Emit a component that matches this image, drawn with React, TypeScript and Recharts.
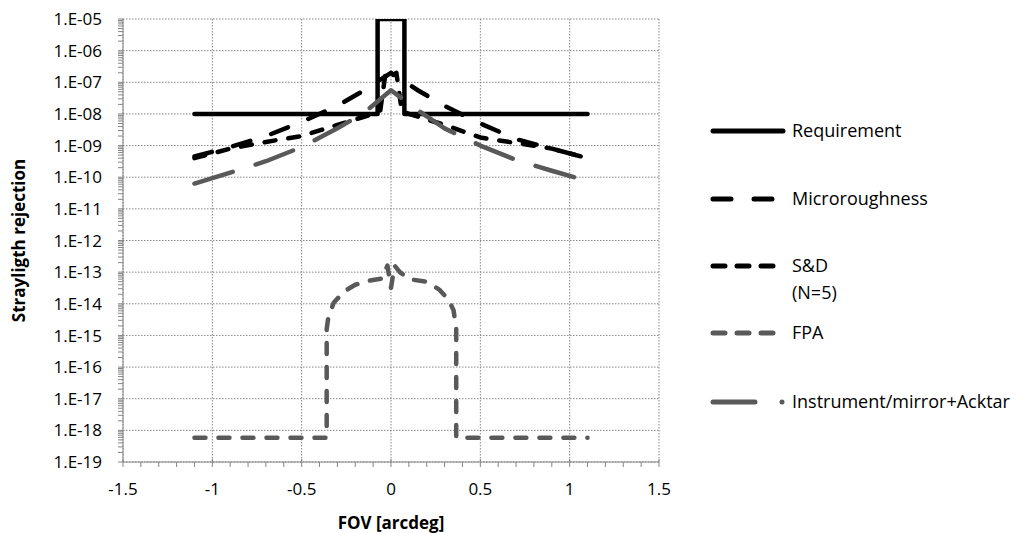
import { LineChart, Line, XAxis, YAxis, CartesianGrid } from "recharts"

// x = FOV [arcdeg], y = straylight rejection
const reqX = [-1.1, -0.075, -0.075, 0.075, 0.075, 1.1]
const reqY = [1e-8, 1e-8, 1e-5, 1e-5, 1e-8, 1e-8]

const microX = [-1.1, -0.9, -0.7, -0.5, -0.3, -0.15, 0, 0.15, 0.3, 0.5, 0.7, 0.9, 1.1]
const microY = [4.5e-10, 9e-10, 2e-9, 5.6e-9, 1.8e-8, 5.6e-8, 2e-7, 5.6e-8, 1.8e-8, 5e-9, 1.6e-9, 8e-10, 4e-10]

const sdX = [-1.1, -0.9, -0.7, -0.5, -0.3, -0.1, -0.06, -0.03, 0, 0.03, 0.06, 0.1, 0.3, 0.5, 0.7, 0.9, 1.1]
const sdY = [4e-10, 8e-10, 1.3e-9, 2e-9, 4.5e-9, 1e-8, 1.3e-8, 2e-7, 1.5e-7, 2e-7, 1.3e-8, 1e-8, 4.5e-9, 1.8e-9, 1.2e-9, 8e-10, 4e-10]

const fpaX = [-1.1, -0.36, -0.36, -0.35, -0.32, -0.26, -0.2, -0.12, -0.05, -0.02, 0, 0.02, 0.05, 0.1, 0.2, 0.27, 0.32, 0.35, 0.365, 0.365, 1.1]
const fpaY = [5.8e-19, 5.8e-19, 1.6e-15, 4e-15, 1.1e-14, 2.5e-14, 4e-14, 5.4e-14, 6.3e-14, 1.6e-13, 3.2e-14, 1.6e-13, 1e-13, 6e-14, 5e-14, 2.8e-14, 1.4e-14, 6.3e-15, 1.6e-15, 5.8e-19, 5.8e-19]

const instX = [-1.1, -0.9, -0.7, -0.5, -0.3, -0.15, 0, 0.15, 0.3, 0.5, 0.7, 0.9, 1.1]
const instY = [6.3e-11, 1.4e-10, 3.2e-10, 9e-10, 3.5e-9, 1.1e-8, 5.6e-8, 1.3e-8, 3.5e-9, 1e-9, 3.5e-10, 1.6e-10, 7.6e-11]

const X_TICKS = [-1.5, -1, -0.5, 0, 0.5, 1, 1.5]
const Y_TICKS = [1e-19, 1e-18, 1e-17, 1e-16, 1e-15, 1e-14, 1e-13, 1e-12, 1e-11, 1e-10, 1e-9, 1e-8, 1e-7, 1e-6, 1e-5]

const X_MINOR: number[] = []
for (let i = -15; i <= 15; i++) if (i % 5 !== 0) X_MINOR.push(i / 10)
const Y_MINOR: number[] = []
for (let e = -19; e <= -6; e++) for (let m = 2; m <= 9; m++) Y_MINOR.push(m * Math.pow(10, e))

const toPoints = (xs: number[], ys: number[]) => xs.map((x, i) => ({ x, y: ys[i] }))

const BLACK = "#000000"
const GRAY = "#595959"
const AXIS = "#868686"
const FONT = "'Open Sans', sans-serif"

const series = [
  { name: "Requirement", data: toPoints(reqX, reqY), color: BLACK, dash: undefined, legendDash: undefined },
  { name: "Microroughness", data: toPoints(microX, microY), color: BLACK, dash: "18 22", legendDash: "18 23" },
  { name: "S&D|(N=5)", data: toPoints(sdX, sdY), color: BLACK, dash: "11 13", legendDash: "12 12" },
  { name: "FPA", data: toPoints(fpaX, fpaY), color: GRAY, dash: "11 13", legendDash: "12 12" },
  { name: "Instrument/mirror+Acktar", data: toPoints(instX, instY), color: GRAY, dash: "40 24", legendDash: "42 24 0.1 100" },
]

const fmtY = (v: number) => {
  const e = Math.round(Math.log10(v))
  return `1.E${e < 0 ? "-" : "+"}${String(Math.abs(e)).padStart(2, "0")}`
}

const YTick = (props: any) => {
  const { x, y, payload } = props
  const major = Y_TICKS.includes(payload.value)
  return (
    <g>
      <line x1={x - 5} x2={x} y1={y} y2={y} stroke={AXIS} strokeWidth={1} />
      {major && (
        <text x={x - 21} y={y} dy="0.36em" textAnchor="end" fontSize={17} fontFamily={FONT} fill="#000">
          {fmtY(payload.value)}
        </text>
      )}
    </g>
  )
}

const XTick = (props: any) => {
  const { x, y, payload } = props
  const major = X_TICKS.includes(payload.value)
  return (
    <g>
      <line x1={x} x2={x} y1={major ? y - 3 : y} y2={y + 5} stroke={AXIS} strokeWidth={1} />
      {major && (
        <text x={x} y={y + 33} textAnchor="middle" fontSize={17} fontFamily={FONT} fill="#000">
          {String(payload.value)}
        </text>
      )}
    </g>
  )
}

const legendRows = [131, 199, 266, 333, 402]

export default function App() {
  return (
    <div style={{ position: "absolute", left: 0, top: 0, width: 1020, height: 533, background: "#fff" }}>
      <LineChart width={1020} height={533} margin={{ top: 19, right: 361, left: 0, bottom: 0 }}>
        <CartesianGrid
          horizontalValues={Y_TICKS}
          verticalValues={X_TICKS}
          stroke={AXIS}
          strokeDasharray="1.5 1.5"
        />
        <XAxis
          dataKey="x"
          type="number"
          domain={[-1.5, 1.5]}
          ticks={[...X_TICKS, ...X_MINOR].sort((a, b) => a - b)}
          interval={0}
          height={71}
          tickSize={0}
          tickMargin={0}
          tickLine={false}
          stroke={AXIS}
          tick={<XTick />}
          allowDataOverflow
          label={{
            content: ({ viewBox }: any) => (
              <text
                x={viewBox.x + viewBox.width / 2}
                y={viewBox.y + 67}
                textAnchor="middle"
                fontSize={17}
                fontWeight="bold"
                fontFamily={FONT}
                fill="#000"
              >
                FOV [arcdeg]
              </text>
            ),
          }}
        />
        <YAxis
          dataKey="y"
          type="number"
          scale="log"
          domain={[1e-19, 1e-5]}
          ticks={[...Y_TICKS, ...Y_MINOR].sort((a, b) => a - b)}
          interval={0}
          width={123}
          tickSize={0}
          tickMargin={0}
          tickLine={false}
          stroke={AXIS}
          tick={<YTick />}
          allowDataOverflow
          label={{
            content: ({ viewBox }: any) => {
              const cx = viewBox.x + 19
              const cy = viewBox.y + viewBox.height / 2
              return (
                <text
                  x={cx}
                  y={cy}
                  transform={`rotate(-90 ${cx} ${cy})`}
                  textAnchor="middle"
                  dy="0.35em"
                  fontSize={17}
                  fontWeight="bold"
                  fontFamily={FONT}
                  fill="#000"
                >
                  Strayligth rejection
                </text>
              )
            },
          }}
        />
        {series.map((s) => (
          <Line
            key={s.name}
            data={s.data}
            dataKey="y"
            type="linear"
            stroke={s.color}
            strokeWidth={4.5}
            strokeDasharray={s.dash}
            strokeLinecap="round"
            strokeLinejoin="round"
            dot={false}
            activeDot={false}
            isAnimationActive={false}
          />
        ))}
      </LineChart>
      {series.map((s, i) => {
        const cy = legendRows[i]
        const lines = s.name.split("|")
        return (
          <div key={s.name}>
            <svg style={{ position: "absolute", left: 708, top: cy - 6 }} width={80} height={12}>
              <line
                x1={5}
                x2={i === 0 ? 75 : 70}
                y1={6}
                y2={6}
                stroke={s.color}
                strokeWidth={5}
                strokeLinecap="round"
                strokeDasharray={s.legendDash}
              />
              {i === 4 && <circle cx={74} cy={6} r={2.5} fill={s.color} />}
            </svg>
            <div
              style={{
                position: "absolute",
                left: 792,
                top: cy - 14,
                fontFamily: FONT,
                fontSize: 18,
                lineHeight: "27px",
                whiteSpace: "nowrap",
                color: "#000",
              }}
            >
              {lines.map((l) => (
                <div key={l}>{l}</div>
              ))}
            </div>
          </div>
        )
      })}
    </div>
  )
}
